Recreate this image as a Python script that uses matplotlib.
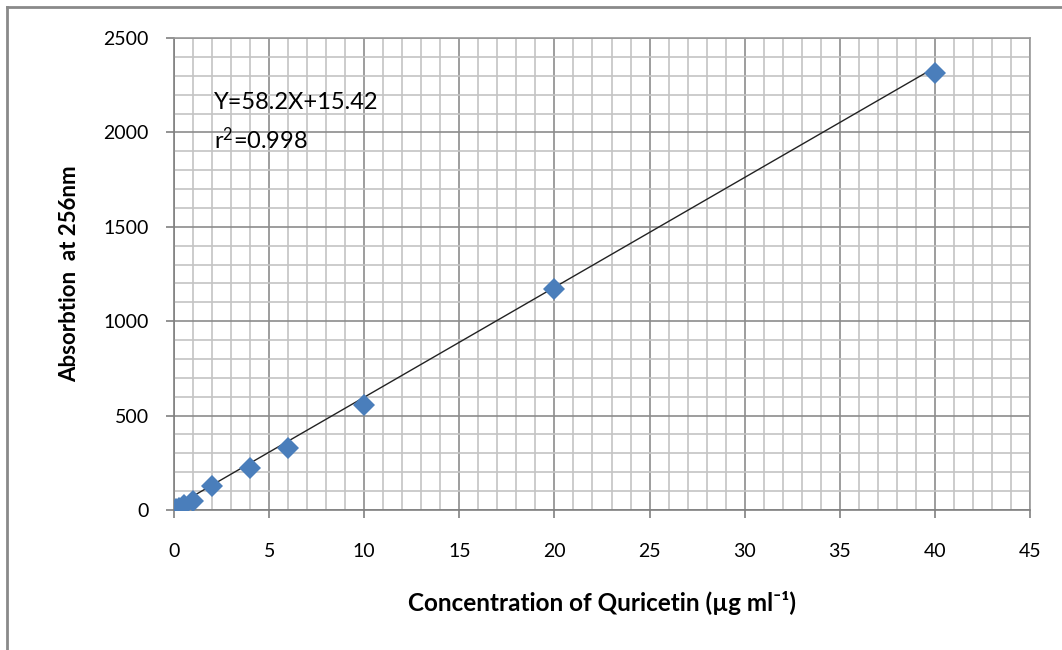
import matplotlib.pyplot as plt
from matplotlib.ticker import MultipleLocator
from matplotlib.lines import Line2D

plt.rcParams['font.family'] = ['Lato', 'DejaVu Sans']
plt.rcParams['mathtext.fontset'] = 'custom'
plt.rcParams['mathtext.rm'] = 'Lato'
plt.rcParams['mathtext.it'] = 'Lato'

# Calibration data: concentration (ug/ml) vs absorption at 256 nm
conc = [0.1, 0.25, 0.5, 1, 2, 4, 6, 10, 20, 40]
absorb = [5, 12, 25, 50, 125, 222, 328, 555, 1170, 2315]

# Linear fit reported on the chart
slope = 58.2
intercept = 15.42
r2 = 0.998

fig = plt.figure(figsize=(10.62, 6.5), dpi=100)
ax = fig.add_axes([174 / 1062, 1 - 510 / 650, 856 / 1062, 472 / 650])

# trend line over the measured range
x_fit = [min(conc), max(conc)]
y_fit = [slope * x + intercept for x in x_fit]
ax.plot(x_fit, y_fit, color='#222222', linewidth=1.0, zorder=3)

ax.plot(conc, absorb, linestyle='none', marker='D', markersize=11,
        color='#4a7ebb', markeredgewidth=0, zorder=4)

ax.set_xlim(0, 45)
ax.set_ylim(0, 2500)
ax.xaxis.set_major_locator(MultipleLocator(5))
ax.xaxis.set_minor_locator(MultipleLocator(1))
ax.yaxis.set_major_locator(MultipleLocator(500))
ax.yaxis.set_minor_locator(MultipleLocator(100))

ax.grid(which='minor', color='#c4c4c4', linewidth=1.2)
ax.grid(which='major', color='#8c8c8c', linewidth=1.2)
ax.set_axisbelow(True)

for s in ax.spines.values():
    s.set_color('#9a9a9a')
    s.set_linewidth(1.2)
ax.spines['left'].set_color('#808080')
ax.spines['bottom'].set_color('#808080')

ax.tick_params(which='major', direction='out', length=6, width=1.2,
               color='#808080', labelsize=14)
ax.tick_params(which='minor', length=0)
ax.tick_params(axis='x', pad=18)
ax.tick_params(axis='y', pad=12)

ax.set_xlabel('Concentration of Quricetin (\u00b5g ml\u207b\u00b9)',
              fontsize=17.5, fontweight='bold', labelpad=22)
ax.set_ylabel('Absorbtion  at 256nm', fontsize=16, fontweight='bold',
              labelpad=17)

ax.text(2.1, 2156, f'Y={slope}X+{intercept}', fontsize=17, va='center')
ax.text(2.1, 1960, 'r$^{2}$=' + f'{r2}', fontsize=17, va='center')

# outer chart frame, only top and left edges fall inside the image
fig.add_artist(Line2D([7 / 1062, 1], [1 - 7 / 650, 1 - 7 / 650],
                      transform=fig.transFigure, color='#8a8a8a', linewidth=2))
fig.add_artist(Line2D([7 / 1062, 7 / 1062], [0, 1 - 7 / 650],
                      transform=fig.transFigure, color='#8a8a8a', linewidth=2))

fig.savefig('out.png', dpi=100)
